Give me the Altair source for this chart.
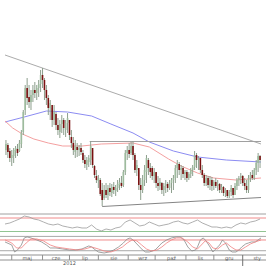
import altair as alt
import pandas as pd

# ---------------- price candles (one per trading-day slot) ----------------
high = [12.0, 11.7, 11.2, 11.0, 11.2, 11.4, 11.6, 12.0, 13.0, 15.0,
        17.5, 18.2, 17.5, 17.0, 17.5, 17.8, 17.5, 18.0, 19.0, 19.2,
        18.2, 17.5, 16.5, 16.0, 15.2, 15.5, 14.8, 14.2, 14.0, 14.5,
        14.2, 14.0, 14.7, 14.0, 13.0, 12.3, 12.0, 11.7, 11.5, 11.7,
        11.0, 10.5, 10.3, 10.5, 11.9, 11.0, 9.5, 9.0, 8.5, 8.2,
        7.7, 7.5, 7.7, 7.5, 7.7, 7.6, 7.8, 7.5, 8.0, 8.2,
        8.4, 9.0, 11.0, 11.4, 11.7, 11.8, 11.9, 10.7, 10.0, 9.0,
        8.2, 8.5, 9.5, 10.5, 10.2, 9.7, 9.4, 9.2, 8.7, 8.4,
        8.2, 7.8, 7.7, 8.0, 7.8, 8.0, 8.2, 8.5, 9.5, 10.0,
        9.8, 9.5, 9.4, 9.0, 9.0, 8.8, 9.2, 9.5, 10.9, 10.7,
        10.4, 10.2, 9.5, 8.7, 8.5, 8.4, 8.4, 8.3, 8.0, 8.2,
        8.0, 7.7, 7.6, 7.4, 7.2, 7.0, 7.0, 7.5, 7.2, 7.7,
        8.2, 8.4, 8.7, 8.5, 8.2, 8.0, 8.5, 8.8, 9.0, 9.2,
        10.0, 10.7, 10.5]
low = [10.5, 10.2, 9.8, 9.4, 9.7, 10.2, 10.4, 10.8, 11.2, 12.5,
       14.5, 15.5, 15.2, 15.0, 15.8, 16.2, 16.0, 16.3, 16.8, 17.2,
       16.0, 15.5, 14.5, 14.0, 13.3, 13.5, 13.0, 12.5, 12.2, 12.7,
       12.5, 12.3, 12.7, 12.0, 11.2, 10.5, 10.2, 10.3, 10.4, 10.5,
       9.7, 9.2, 9.0, 9.3, 9.5, 9.2, 8.2, 7.7, 7.2, 6.4,
       5.4, 6.0, 6.2, 6.0, 6.4, 6.3, 6.6, 6.4, 6.8, 7.0,
       7.2, 7.3, 8.5, 10.0, 10.2, 10.5, 10.0, 8.7, 8.4, 7.0,
       6.0, 6.7, 7.4, 7.7, 8.5, 8.2, 8.0, 7.7, 7.2, 6.9,
       7.0, 6.6, 6.4, 6.7, 6.8, 7.0, 6.7, 7.0, 7.7, 8.2,
       8.5, 8.0, 8.2, 8.0, 7.8, 8.0, 8.2, 8.4, 9.0, 9.2,
       9.0, 8.7, 8.2, 7.4, 7.4, 7.2, 7.0, 6.9, 7.0, 7.2,
       6.9, 6.7, 6.7, 6.4, 6.3, 6.2, 6.2, 6.4, 6.2, 6.5,
       7.0, 7.4, 7.6, 7.4, 7.0, 6.7, 6.7, 7.8, 8.0, 8.0,
       8.5, 8.8, 9.2]
open_ = [11.0, 11.5, 10.9, 10.2, 10.4, 10.9, 11.1, 10.9, 11.6, 12.8,
         15.0, 17.2, 16.3, 15.8, 16.5, 17.0, 16.7, 17.2, 17.6, 18.5,
         18.0, 17.0, 16.2, 15.2, 15.5, 14.0, 14.6, 13.5, 12.8, 13.6,
         14.0, 13.0, 13.7, 14.0, 12.3, 11.7, 10.8, 11.3, 11.0, 11.2,
         10.7, 10.0, 9.5, 9.8, 10.0, 11.2, 9.4, 8.4, 7.9, 8.0,
         7.0, 6.2, 7.0, 6.5, 7.2, 6.7, 7.3, 6.9, 7.2, 7.5,
         7.7, 7.5, 8.8, 10.7, 11.0, 10.7, 11.4, 10.5, 9.0, 9.2,
         7.5, 7.0, 8.0, 8.8, 10.0, 9.2, 9.2, 8.4, 8.8, 7.7,
         7.4, 7.7, 7.0, 7.4, 7.6, 7.2, 7.7, 8.0, 8.2, 9.2,
         9.6, 9.0, 9.2, 8.6, 8.8, 8.2, 8.6, 9.0, 9.3, 10.5,
         10.0, 10.2, 9.0, 8.5, 7.7, 8.2, 7.5, 8.0, 7.4, 7.8,
         7.4, 7.6, 7.0, 7.3, 6.7, 7.0, 6.4, 6.8, 7.2, 6.5,
         7.4, 8.0, 8.2, 8.4, 7.7, 7.4, 7.0, 8.2, 8.5, 8.2,
         9.0, 9.7, 10.4]
close = [11.6, 10.8, 10.2, 10.5, 11.0, 11.2, 10.7, 11.7, 12.7, 14.8,
         17.2, 16.2, 15.8, 16.5, 17.0, 16.7, 17.2, 17.6, 18.5, 18.0,
         17.0, 16.2, 15.2, 15.7, 14.0, 14.8, 13.5, 13.0, 13.6, 14.0,
         13.2, 13.7, 14.2, 12.5, 11.7, 11.0, 11.4, 11.0, 11.2, 10.8,
         10.0, 9.6, 10.0, 10.2, 11.4, 9.5, 8.5, 8.0, 8.2, 6.6,
         6.0, 7.0, 6.5, 7.2, 6.8, 7.3, 7.0, 7.2, 7.6, 7.8,
         7.4, 8.8, 10.7, 11.0, 10.6, 11.4, 10.5, 9.0, 9.5, 7.5,
         7.0, 8.0, 9.0, 10.2, 9.2, 8.8, 8.4, 8.8, 7.7, 7.4,
         7.8, 7.0, 7.4, 7.6, 7.2, 7.7, 8.0, 8.2, 9.2, 9.6,
         9.0, 9.2, 8.6, 8.8, 8.2, 8.6, 9.0, 9.3, 10.5, 10.0,
         10.2, 9.0, 8.5, 7.7, 8.2, 7.5, 8.0, 7.4, 7.8, 7.4,
         7.6, 7.0, 7.3, 6.7, 7.0, 6.4, 6.8, 7.2, 6.5, 7.4,
         8.0, 8.2, 8.4, 7.7, 7.4, 7.0, 8.2, 8.5, 8.2, 9.0,
         9.7, 10.4, 10.0]
days = list(range(len(close)))

# ---------------- moving averages ----------------
ma_long_day = [-0.5, 9.5, 21, 32, 44.5, 54.5, 66, 74.5, 87, 99.5, 114.5, 132.5]
ma_long_val = [13.8, 14.3, 14.9, 14.8, 14.4, 13.6, 12.7, 11.8, 10.9, 10.3, 10.0, 9.8]
ma_short_day = [-0.5, 3.5, 8.5, 14.5, 22, 29.5, 39.5, 49.5, 66, 74.5, 84.5, 91, 99.5, 108, 119.5, 132.5]
ma_short_val = [13.9, 13.2, 12.6, 12.1, 11.7, 11.4, 11.4, 11.6, 11.7, 11.3, 10.1, 9.4, 8.7, 8.2, 8.0, 8.2]

# ---------------- trend lines ----------------
trend_day1 = [-0.5, 43.5, 50]
trend_val1 = [20.5, 11.85, 5.35]
trend_day2 = [132.5, 132.5, 132.5]
trend_val2 = [11.6, 11.85, 6.25]
trend_color = ["#ababab", "#a0a0a0", "#858585"]

# ---------------- oscillator 1 ----------------
osc1_day = [d / 2 - 0.5 for d in range(0, 266, 5)]
osc1_val = [52.2, 55.2, 61.1, 67.0, 75.9, 73.0, 67.0, 64.1, 58.1, 52.2,
            49.3, 52.2, 46.3, 43.3, 40.4, 43.3, 40.4, 40.4, 49.3, 37.4,
            31.5, 37.4, 34.4, 40.4, 43.3, 58.1, 64.1, 55.2, 46.3, 49.3,
            58.1, 52.2, 46.3, 49.3, 52.2, 58.1, 61.1, 55.2, 52.2, 58.1,
            64.1, 55.2, 49.3, 43.3, 43.3, 40.4, 43.3, 40.4, 49.3, 55.2,
            52.2, 58.1, 61.1, 67.0]
osc1_levels = [70, 30]
osc1_level_colors = ["#f08a8a", "#92c492"]

# ---------------- stochastic ----------------
k_day = [-0.5, 3, 4.5, 6, 8, 9.5, 11, 13, 16, 18.5, 21, 23, 26, 29.5, 33, 36, 39.5, 43, 44.5, 46.5,
         48, 51, 53.5, 56, 58.5, 61, 63, 64.5, 66, 68, 69.5, 71, 72.5, 74.5, 77.5, 79.5, 81, 83.5,
         86, 88.5, 90.5, 92.5, 94.5, 96.5, 98.5, 99.5, 101, 102.5, 104, 106, 107.5, 109, 111,
         112.5, 114, 116, 117.5, 119.5, 121, 122.5, 124.5, 126, 127.5, 129.5, 131, 132.5]
k_val = [68.9, 52.1, 12.9, 24.1, 52.1, 91.3, 96.9, 91.3, 80.1, 68.9, 52.1, 35.3, 35.3, 29.7, 24.1,
         24.1, 29.7, 46.5, 40.9, 24.1, 12.9, 7.3, 12.9, 24.1, 40.9, 63.3, 85.7, 91.3, 80.1, 57.7,
         40.9, 24.1, 12.9, 12.9, 24.1, 46.5, 63.3, 80.1, 91.3, 96.9, 96.9, 80.1, 40.9, 18.5, 24.1,
         40.9, 80.1, 91.3, 74.5, 40.9, 12.9, 29.7, 52.1, 80.1, 63.3, 24.1, 12.9, 12.9, 24.1, 40.9,
         57.7, 63.3, 68.9, 68.9, 80.1, 91.3]
d_day = [-0.5, 3, 5.5, 8, 10.5, 13, 16, 19.5, 23, 26, 29.5, 33, 37, 41, 44.5, 48, 51, 54.5, 57.5,
         60.5, 63, 65.5, 68, 70.5, 73, 75.5, 78.5, 81, 83.5, 86, 88.5, 91.5, 94.5, 97, 99.5, 101.5,
         103.5, 105.5, 107.5, 110, 112.5, 114.5, 117, 119.5, 122, 124.5, 127, 129.5, 132.5]
d_val = [80.1, 63.3, 35.3, 35.3, 63.3, 85.7, 85.7, 74.5, 52.1, 40.9, 35.3, 29.7, 24.1, 29.7, 40.9,
         29.7, 18.5, 12.9, 24.1, 40.9, 63.3, 80.1, 74.5, 52.1, 29.7, 18.5, 24.1, 40.9, 63.3, 80.1,
         91.3, 91.3, 68.9, 40.9, 29.7, 52.1, 74.5, 63.3, 35.3, 29.7, 52.1, 63.3, 40.9, 24.1, 24.1,
         40.9, 57.7, 68.9, 80.1]
stoch_levels = [100, 80, 20]
stoch_level_colors = ["#a8a8a8", "#f08a8a", "#a8a8a8"]

# ---------------- time axis ----------------
month_start = [3, 19, 33, 48, 63.5, 77.5, 93.5, 108]
month_label_day = [11, 26, 41, 56, 71, 86, 101, 116, 130.5]
month_names = ["maj", "cze", "lip", "sie", "wrz", "paź", "lis", "gru", "sty"]
year_start = [123]
year_label_day = [33]
year_names = ["2012"]

# ---------------- chart ----------------
X = alt.X("day:Q", scale=alt.Scale(domain=[-0.5, 132.5], nice=False, zero=False), axis=None)


def yscale(field, domain, rng):
    return alt.Y(field, type="quantitative",
                 scale=alt.Scale(domain=domain, range=rng, nice=False, zero=False), axis=None)


def y2(field):
    return alt.Y2(field)


PRICE_DOM, PRICE_RNG = [4.6, 26.0], [214, 0]
OSC_DOM, OSC_RNG = [30, 70], [231.5, 218]
ST_DOM, ST_RNG = [0, 100], [254.3, 236.4]
AX_DOM, AX_RNG = [0, 11], [266, 255]

candles = pd.DataFrame({"day": days, "high": high, "low": low, "open": open_, "close": close})
ma_long = pd.DataFrame({"day": ma_long_day, "v": ma_long_val})
ma_short = pd.DataFrame({"day": ma_short_day, "v": ma_short_val})
trends = pd.DataFrame({"day": trend_day1, "day2": trend_day2, "v": trend_val1, "v2": trend_val2,
                       "c": trend_color})
osc1 = pd.DataFrame({"day": osc1_day, "v": osc1_val})
osc1_lv = pd.DataFrame({"v": osc1_levels, "c": osc1_level_colors})
kdf = pd.DataFrame({"day": k_day, "v": k_val})
ddf = pd.DataFrame({"day": d_day, "v": d_val})
st_lv = pd.DataFrame({"v": stoch_levels, "c": stoch_level_colors})
frame_df = pd.DataFrame({"v": [PRICE_DOM[0]]})
axis_lines = pd.DataFrame({"v": [11, 6]})
mticks = pd.DataFrame({"day": month_start, "a": [6] * len(month_start), "b": [11] * len(month_start)})
yticks = pd.DataFrame({"day": year_start, "a": [0], "b": [11]})
mlabels = pd.DataFrame({"day": month_label_day, "t": month_names, "v": [8.5] * len(month_names)})
ylabels = pd.DataFrame({"day": year_label_day, "t": year_names, "v": [3] * len(year_names)})

layers = [
    alt.Chart(frame_df).mark_rule(color="#a0a0a0", strokeWidth=1).encode(
        y=yscale("v", PRICE_DOM, PRICE_RNG)),
    alt.Chart(ma_long).mark_line(color="#8c8cf2", strokeWidth=1, clip=True).encode(
        x=X, y=yscale("v", PRICE_DOM, PRICE_RNG)),
    alt.Chart(ma_short).mark_line(color="#f4a0a0", strokeWidth=1, clip=True).encode(
        x=X, y=yscale("v", PRICE_DOM, PRICE_RNG)),
    alt.Chart(trends).mark_rule(strokeWidth=1, clip=True).encode(
        x=X, x2=alt.X2("day2"), y=yscale("v", PRICE_DOM, PRICE_RNG), y2=y2("v2"),
        color=alt.Color("c:N", scale=None)),
    alt.Chart(candles).mark_rule(color="#8d9f8d", strokeWidth=1).encode(
        x=X, y=yscale("high", PRICE_DOM, PRICE_RNG), y2=y2("low")),
    alt.Chart(candles).mark_bar(size=1.6).encode(
        x=X, y=yscale("open", PRICE_DOM, PRICE_RNG), y2=y2("close"),
        color=alt.condition("datum.close >= datum.open", alt.value("#9dbb9d"), alt.value("#7a1010"))),
    # oscillator panel
    alt.Chart(osc1_lv).mark_rule(strokeWidth=1).encode(
        y=yscale("v", OSC_DOM, OSC_RNG), color=alt.Color("c:N", scale=None)),
    alt.Chart(osc1).mark_line(color="#9a9a9a", strokeWidth=0.8, clip=True).encode(
        x=X, y=yscale("v", OSC_DOM, OSC_RNG)),
    # stochastic panel
    alt.Chart(st_lv).mark_rule(strokeWidth=1).encode(
        y=yscale("v", ST_DOM, ST_RNG), color=alt.Color("c:N", scale=None)),
    alt.Chart(kdf).mark_line(color="#8a8a8a", strokeWidth=0.8, clip=True).encode(
        x=X, y=yscale("v", ST_DOM, ST_RNG)),
    alt.Chart(ddf).mark_line(color="#f08080", strokeWidth=0.8, clip=True).encode(
        x=X, y=yscale("v", ST_DOM, ST_RNG)),
    # time axis row
    alt.Chart(axis_lines).mark_rule(color="#909090", strokeWidth=1).encode(
        y=yscale("v", AX_DOM, AX_RNG)),
    alt.Chart(mticks).mark_rule(color="#909090", strokeWidth=1).encode(
        x=X, y=yscale("a", AX_DOM, AX_RNG), y2=y2("b")),
    alt.Chart(yticks).mark_rule(color="#707070", strokeWidth=1).encode(
        x=X, y=yscale("a", AX_DOM, AX_RNG), y2=y2("b")),
    alt.Chart(mlabels).mark_text(fontSize=5, font="DejaVu Sans", color="#555555",
                                 baseline="middle", align="center").encode(
        x=X, y=yscale("v", AX_DOM, AX_RNG), text="t:N"),
    alt.Chart(ylabels).mark_text(fontSize=5, font="DejaVu Sans", color="#555555",
                                 baseline="middle", align="center").encode(
        x=X, y=yscale("v", AX_DOM, AX_RNG), text="t:N"),
]

chart = alt.layer(*layers).resolve_scale(y="independent").properties(
    width=266, height=266, padding=0, autosize="none", background="white"
).configure_view(stroke=None)

chart.save("out.html", embed_options={"renderer": "svg", "actions": False})
